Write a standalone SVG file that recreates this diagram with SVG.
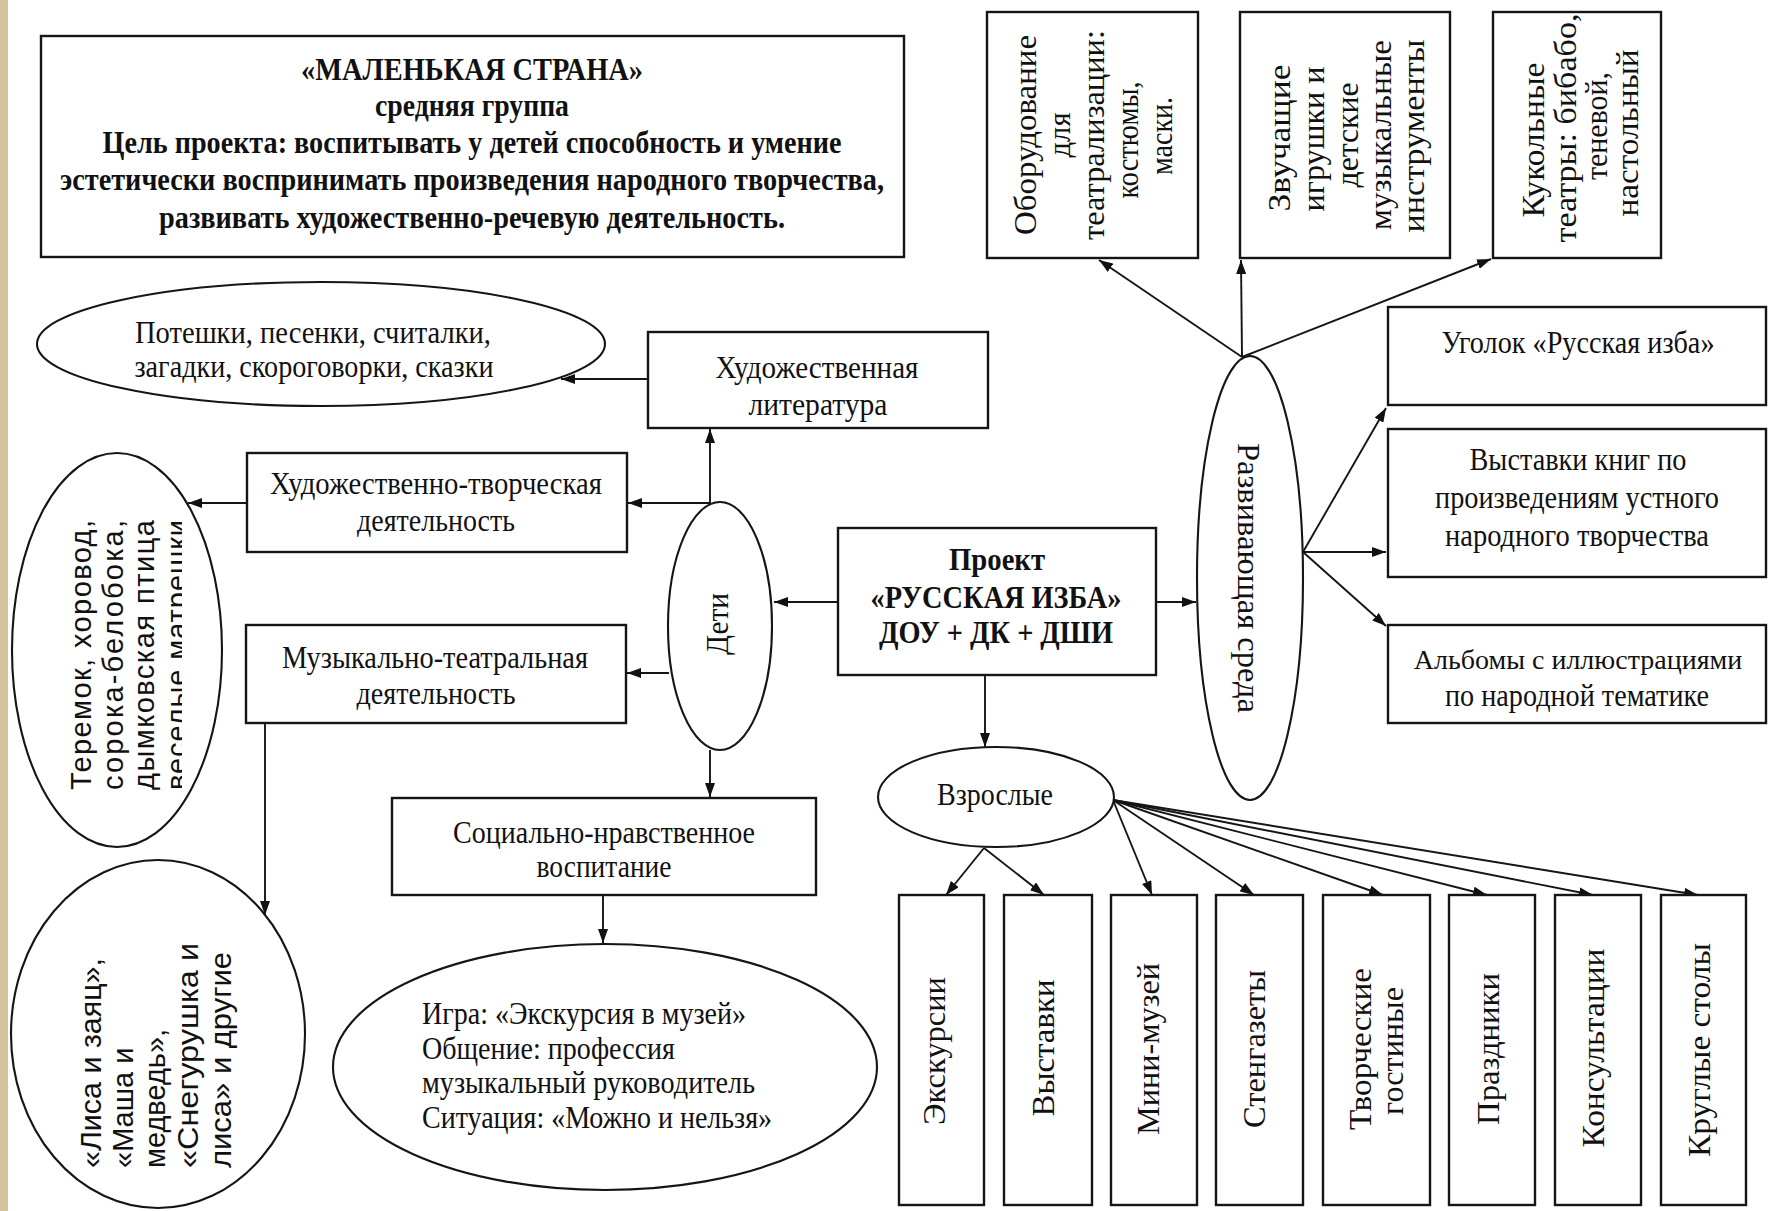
<svg xmlns="http://www.w3.org/2000/svg" width="1768" height="1211" viewBox="0 0 1768 1211">
<style>
.bx{fill:#fff;stroke:#151515;stroke-width:2.4}
.el{fill:#fff;stroke:#151515;stroke-width:2.1}
.cn{fill:none;stroke:#151515;stroke-width:1.9}
.t{font-family:"Liberation Serif","Times New Roman",serif;font-size:31px;fill:#111}
.tb{font-family:"Liberation Serif","Times New Roman",serif;font-size:31px;font-weight:bold;fill:#111}
.tr{font-family:"Liberation Serif","Times New Roman",serif;font-size:32px;fill:#111}
.ts{font-family:"Liberation Sans",Arial,sans-serif;font-size:29px;fill:#111}
.m{text-anchor:middle}
</style>
<defs>
<marker id="ah" viewBox="0 0 10 10" refX="10" refY="5" markerWidth="14" markerHeight="10" markerUnits="userSpaceOnUse" orient="auto" preserveAspectRatio="none"><path d="M0,0 L10,5 L0,10 z" fill="#111"/></marker>
<clipPath id="cut"><rect x="150" y="500" width="32" height="310"/></clipPath>
</defs>
<rect x="0" y="0" width="1768" height="1211" fill="#fff"/>
<rect x="0" y="0" width="8" height="1211" fill="#d5c59f"/>

<g id="connectors">
<path class="cn" marker-end="url(#ah)" d="M838,602 L774,602"/>
<path class="cn" marker-end="url(#ah)" d="M1156,602 L1196,602"/>
<path class="cn" marker-end="url(#ah)" d="M985,675 L985,747"/>
<path class="cn" marker-end="url(#ah)" d="M710,503 L710,429"/>
<path class="cn" marker-end="url(#ah)" d="M710,503 L628,503"/>
<path class="cn" marker-end="url(#ah)" d="M669,673 L627,673"/>
<path class="cn" marker-end="url(#ah)" d="M710,750 L710,797"/>
<path class="cn" marker-end="url(#ah)" d="M648,379 L561,379"/>
<path class="cn" marker-end="url(#ah)" d="M247,503 L188,503"/>
<path class="cn" marker-end="url(#ah)" d="M265,723 L265,915"/>
<path class="cn" marker-end="url(#ah)" d="M603,895 L603,943"/>
<path class="cn" marker-end="url(#ah)" d="M1242,357 L1099,260"/>
<path class="cn" marker-end="url(#ah)" d="M1242,357 L1241,260"/>
<path class="cn" marker-end="url(#ah)" d="M1242,357 L1491,259"/>
<path class="cn" marker-end="url(#ah)" d="M1303,552 L1386,408"/>
<path class="cn" marker-end="url(#ah)" d="M1303,552 L1386,552"/>
<path class="cn" marker-end="url(#ah)" d="M1303,552 L1386,626"/>
<path class="cn" marker-end="url(#ah)" d="M984,848 L946,895"/>
<path class="cn" marker-end="url(#ah)" d="M984,848 L1044,895"/>
<path class="cn" marker-end="url(#ah)" d="M1113,800 L1152,895"/>
<path class="cn" marker-end="url(#ah)" d="M1113,800 L1254,895"/>
<path class="cn" marker-end="url(#ah)" d="M1113,800 L1383,895"/>
<path class="cn" marker-end="url(#ah)" d="M1113,800 L1487,895"/>
<path class="cn" marker-end="url(#ah)" d="M1113,800 L1593,895"/>
<path class="cn" marker-end="url(#ah)" d="M1113,800 L1698,895"/>
</g>

<g id="title">
<rect class="bx" x="41" y="36" width="863" height="221"/>
<text class="tb m" x="472" y="80" textLength="342" lengthAdjust="spacingAndGlyphs">«МАЛЕНЬКАЯ СТРАНА»</text>
<text class="tb m" x="472" y="116" textLength="194" lengthAdjust="spacingAndGlyphs">средняя группа</text>
<text class="tb m" x="472" y="153" textLength="739" lengthAdjust="spacingAndGlyphs">Цель проекта: воспитывать у детей способность и умение</text>
<text class="tb m" x="472" y="190" textLength="824" lengthAdjust="spacingAndGlyphs">эстетически воспринимать произведения народного творчества,</text>
<text class="tb m" x="472" y="228" textLength="626" lengthAdjust="spacingAndGlyphs">развивать художественно-речевую деятельность.</text>
</g>

<g id="box-oborudovanie">
<rect class="bx" x="987" y="12" width="211" height="246"/>
<text class="tr m" transform="translate(1036,135) rotate(-90)" textLength="200" lengthAdjust="spacingAndGlyphs">Оборудование</text>
<text class="tr m" transform="translate(1070,135) rotate(-90)" textLength="45" lengthAdjust="spacingAndGlyphs">для</text>
<text class="tr m" transform="translate(1104,135) rotate(-90)" textLength="210" lengthAdjust="spacingAndGlyphs">театрализации:</text>
<text class="tr m" transform="translate(1138,140) rotate(-90)" textLength="117" lengthAdjust="spacingAndGlyphs">костюмы,</text>
<text class="tr m" transform="translate(1172,136) rotate(-90)" textLength="78" lengthAdjust="spacingAndGlyphs">маски.</text>
</g>

<g id="box-zvuchashchie">
<rect class="bx" x="1240" y="12" width="210" height="246"/>
<text class="tr m" transform="translate(1290,138) rotate(-90)" textLength="147" lengthAdjust="spacingAndGlyphs">Звучащие</text>
<text class="tr m" transform="translate(1324,139) rotate(-90)" textLength="145" lengthAdjust="spacingAndGlyphs">игрушки и</text>
<text class="tr m" transform="translate(1358,135) rotate(-90)" textLength="105" lengthAdjust="spacingAndGlyphs">детские</text>
<text class="tr m" transform="translate(1391,135) rotate(-90)" textLength="190" lengthAdjust="spacingAndGlyphs">музыкальные</text>
<text class="tr m" transform="translate(1424,136) rotate(-90)" textLength="193" lengthAdjust="spacingAndGlyphs">инструменты</text>
</g>

<g id="box-kukolnye">
<rect class="bx" x="1493" y="12" width="168" height="246"/>
<text class="tr m" transform="translate(1544,140) rotate(-90)" textLength="155" lengthAdjust="spacingAndGlyphs">Кукольные</text>
<text class="tr m" transform="translate(1576,128) rotate(-90)" textLength="229" lengthAdjust="spacingAndGlyphs">театры: бибабо,</text>
<text class="tr m" transform="translate(1607,126) rotate(-90)" textLength="108" lengthAdjust="spacingAndGlyphs">теневой,</text>
<text class="tr m" transform="translate(1638,133) rotate(-90)" textLength="167" lengthAdjust="spacingAndGlyphs">настольный</text>
</g>

<g id="box-ugolok">
<rect class="bx" x="1388" y="307" width="378" height="98"/>
<text class="t m" x="1578" y="353" textLength="273" lengthAdjust="spacingAndGlyphs">Уголок «Русская изба»</text>
</g>

<g id="box-vystavki-knig">
<rect class="bx" x="1388" y="429" width="378" height="148"/>
<text class="t m" x="1578" y="470" textLength="217" lengthAdjust="spacingAndGlyphs">Выставки книг по</text>
<text class="t m" x="1577" y="508" textLength="284" lengthAdjust="spacingAndGlyphs">произведениям устного</text>
<text class="t m" x="1577" y="546" textLength="264" lengthAdjust="spacingAndGlyphs">народного творчества</text>
</g>

<g id="box-albomy">
<rect class="bx" x="1388" y="625" width="378" height="98"/>
<text class="t m" x="1578" y="669" style="font-size:28px">Альбомы с иллюстрациями</text>
<text class="t m" x="1577" y="706" textLength="264" lengthAdjust="spacingAndGlyphs">по народной тематике</text>
</g>

<g id="node-razvivayushchaya">
<ellipse class="el" cx="1250" cy="578" rx="53" ry="222"/>
<text class="tr m" transform="translate(1238,578) rotate(90)" textLength="270" lengthAdjust="spacingAndGlyphs">Развивающая среда</text>
</g>

<g id="box-proekt">
<rect class="bx" x="838" y="528" width="318" height="147"/>
<text class="tb m" x="997" y="570" style="font-size:32px" textLength="96" lengthAdjust="spacingAndGlyphs">Проект</text>
<text class="tb m" x="996" y="608" style="font-size:32px" textLength="251" lengthAdjust="spacingAndGlyphs">«РУССКАЯ ИЗБА»</text>
<text class="tb m" x="996" y="643" style="font-size:32px" textLength="234" lengthAdjust="spacingAndGlyphs">ДОУ + ДК + ДШИ</text>
</g>

<g id="node-deti">
<ellipse class="el" cx="720" cy="626" rx="52" ry="124"/>
<text class="tr m" transform="translate(728,624) rotate(-90)" textLength="62" lengthAdjust="spacingAndGlyphs">Дети</text>
</g>

<g id="box-hud-lit">
<rect class="bx" x="648" y="332" width="340" height="96"/>
<text class="t m" x="817" y="378" textLength="203" lengthAdjust="spacingAndGlyphs">Художественная</text>
<text class="t m" x="818" y="415" textLength="139" lengthAdjust="spacingAndGlyphs">литература</text>
</g>

<g id="node-poteshki">
<ellipse class="el" cx="321" cy="344" rx="284" ry="62"/>
<text class="t m" x="313" y="343" textLength="356" lengthAdjust="spacingAndGlyphs">Потешки, песенки,  считалки,</text>
<text class="t m" x="314" y="377" textLength="359" lengthAdjust="spacingAndGlyphs">загадки, скороговорки, сказки</text>
</g>

<g id="box-hud-tvorch">
<rect class="bx" x="247" y="453" width="380" height="99"/>
<text class="t m" x="436" y="494" textLength="332" lengthAdjust="spacingAndGlyphs">Художественно-творческая</text>
<text class="t m" x="436" y="531" textLength="158" lengthAdjust="spacingAndGlyphs">деятельность</text>
</g>

<g id="box-muz-teatr">
<rect class="bx" x="246" y="625" width="380" height="98"/>
<text class="t m" x="435" y="668" textLength="306" lengthAdjust="spacingAndGlyphs">Музыкально-театральная</text>
<text class="t m" x="436" y="704" textLength="159" lengthAdjust="spacingAndGlyphs">деятельность</text>
</g>

<g id="node-teremok">
<ellipse class="el" cx="117" cy="650" rx="105" ry="197"/>
<text class="ts" transform="translate(91,790) rotate(-90)" textLength="270" lengthAdjust="spacing">Теремок,  хоровод,</text>
<text class="ts" transform="translate(123,790) rotate(-90)" textLength="270" lengthAdjust="spacing">сорока-белобока,</text>
<text class="ts" transform="translate(154,790) rotate(-90)" textLength="270" lengthAdjust="spacing">дымковская  птица</text>
<g clip-path="url(#cut)"><text class="ts" transform="translate(187,790) rotate(-90)" textLength="270" lengthAdjust="spacing">веселые матрешки</text></g>
</g>

<g id="node-lisa">
<ellipse class="el" cx="158" cy="1034" rx="147" ry="174"/>
<text class="ts" transform="translate(101,1168) rotate(-90)" textLength="210" lengthAdjust="spacingAndGlyphs">«Лиса и заяц»,</text>
<text class="ts" transform="translate(133,1168) rotate(-90)">«Маша и</text>
<text class="ts" transform="translate(165,1168) rotate(-90)">медведь»,</text>
<text class="ts" transform="translate(198,1168) rotate(-90)" textLength="225" lengthAdjust="spacingAndGlyphs">«Снегурушка и</text>
<text class="ts" transform="translate(231,1168) rotate(-90)" textLength="216" lengthAdjust="spacingAndGlyphs">лиса» и другие</text>
</g>

<g id="box-socialno">
<rect class="bx" x="392" y="798" width="424" height="97"/>
<text class="t m" x="604" y="843" textLength="302" lengthAdjust="spacingAndGlyphs">Социально-нравственное</text>
<text class="t m" x="604" y="877" textLength="135" lengthAdjust="spacingAndGlyphs">воспитание</text>
</g>

<g id="node-igra">
<ellipse class="el" cx="605" cy="1067" rx="272" ry="123"/>
<text class="t" x="422" y="1024" textLength="324" lengthAdjust="spacingAndGlyphs">Игра: «Экскурсия в музей»</text>
<text class="t" x="422" y="1059" textLength="253" lengthAdjust="spacingAndGlyphs">Общение: профессия</text>
<text class="t" x="422" y="1093" textLength="333" lengthAdjust="spacingAndGlyphs">музыкальный руководитель</text>
<text class="t" x="422" y="1128" textLength="350" lengthAdjust="spacingAndGlyphs">Ситуация: «Можно и нельзя»</text>
</g>

<g id="node-vzroslye">
<ellipse class="el" cx="996" cy="797" rx="118" ry="50"/>
<text class="t m" x="995" y="805" style="font-size:32px" textLength="116" lengthAdjust="spacingAndGlyphs">Взрослые</text>
</g>

<g id="box-ekskursii"><rect class="bx" x="899" y="895" width="85" height="310"/><text class="tr m" transform="translate(945,1051) rotate(-90)" textLength="148" lengthAdjust="spacingAndGlyphs">Экскурсии</text></g>
<g id="box-vystavki"><rect class="bx" x="1004" y="895" width="88" height="310"/><text class="tr m" transform="translate(1054,1048) rotate(-90)" textLength="137" lengthAdjust="spacingAndGlyphs">Выставки</text></g>
<g id="box-mini-muzey"><rect class="bx" x="1111" y="895" width="86" height="310"/><text class="tr m" transform="translate(1159,1049) rotate(-90)" textLength="172" lengthAdjust="spacingAndGlyphs">Мини-музей</text></g>
<g id="box-stengazety"><rect class="bx" x="1216" y="895" width="87" height="310"/><text class="tr m" transform="translate(1265,1049) rotate(-90)" textLength="158" lengthAdjust="spacingAndGlyphs">Стенгазеты</text></g>
<g id="box-tvorcheskie"><rect class="bx" x="1323" y="895" width="107" height="310"/><text class="tr m" transform="translate(1371,1049) rotate(-90)" textLength="162" lengthAdjust="spacingAndGlyphs">Творческие</text><text class="tr m" transform="translate(1403,1051) rotate(-90)" textLength="128" lengthAdjust="spacingAndGlyphs">гостиные</text></g>
<g id="box-prazdniki"><rect class="bx" x="1449" y="895" width="86" height="310"/><text class="tr m" transform="translate(1499,1049) rotate(-90)" textLength="152" lengthAdjust="spacingAndGlyphs">Праздники</text></g>
<g id="box-konsultacii"><rect class="bx" x="1555" y="895" width="86" height="310"/><text class="tr m" transform="translate(1604,1048) rotate(-90)" textLength="199" lengthAdjust="spacingAndGlyphs">Консультации</text></g>
<g id="box-kruglye"><rect class="bx" x="1661" y="895" width="85" height="310"/><text class="tr m" transform="translate(1710,1050) rotate(-90)" textLength="214" lengthAdjust="spacingAndGlyphs">Круглые столы</text></g>
</svg>
